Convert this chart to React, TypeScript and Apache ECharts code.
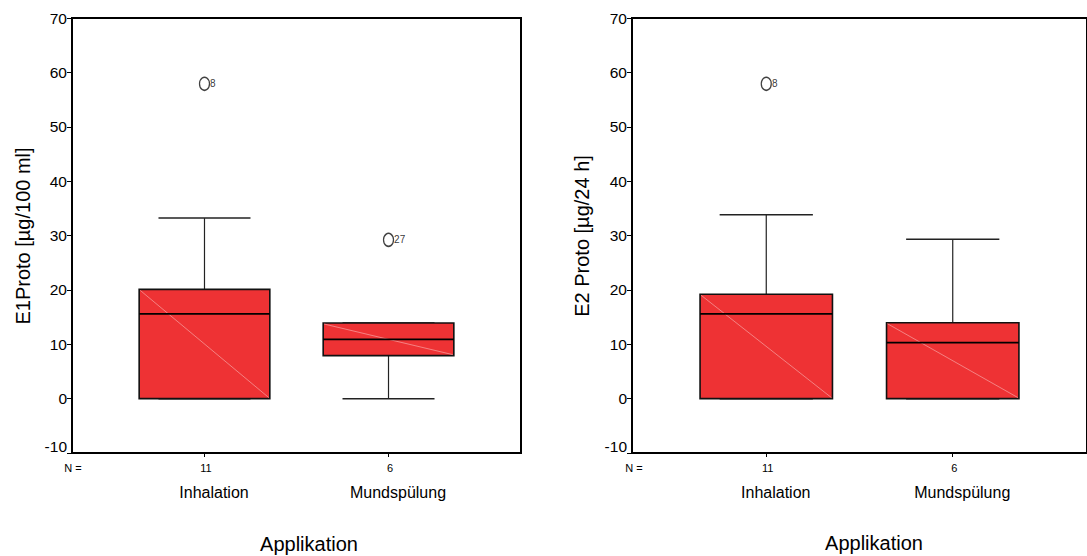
import React, { useEffect, useRef } from 'react';
import * as echarts from 'echarts';

const categories = ['Inhalation', 'Mundspülung'];
const counts = ['11', '6'];
// [low whisker, Q1, median, Q3, high whisker]
const e1Boxes = [
  [0, 0, 15.6, 20.1, 33.2],
  [0, 7.9, 10.9, 13.9, 13.9],
];
// [category index, value, case label]
const e1Outliers = [
  [0, 57.9, '8'],
  [1, 29.2, '27'],
];
const e2Boxes = [
  [0, 0, 15.6, 19.2, 33.8],
  [0, 0, 10.3, 13.95, 29.3],
];
const e2Outliers = [[0, 57.9, '8']];
const yMin = -10;
const yMax = 70;
const yStep = 10;
const yTitles = ['E1Proto [µg/100 ml]', 'E2 Proto [µg/24 h]'];
const xTitle = 'Applikation';
const nLabel = 'N =';

const FONT = '"Liberation Sans", Arial, Helvetica, sans-serif';
const RED = '#ee3234';
const BOX_W = 0.71;
const CAP_W = 0.5;

const renderBox = (params: any, api: any) => {
  const x = api.value(0);
  const lo = api.value(1);
  const q1 = api.value(2);
  const med = api.value(3);
  const q3 = api.value(4);
  const hi = api.value(5);
  const c = (v: number) => api.coord([x, v]);
  const cx = c(lo)[0];
  const yLo = c(lo)[1];
  const yQ1 = c(q1)[1];
  const yMed = c(med)[1];
  const yQ3 = c(q3)[1];
  const yHi = c(hi)[1];
  const hb = api.size([BOX_W, 0])[0] / 2;
  const hc = api.size([CAP_W, 0])[0] / 2;
  const whisk = { stroke: '#222', lineWidth: 1.2 };
  const children: any[] = [
    { type: 'line', shape: { x1: cx, y1: yQ3, x2: cx, y2: yHi }, style: whisk },
    { type: 'line', shape: { x1: cx - hc, y1: yHi, x2: cx + hc, y2: yHi }, style: { stroke: '#222', lineWidth: 1.5 } },
    { type: 'line', shape: { x1: cx, y1: yQ1, x2: cx, y2: yLo }, style: whisk },
    { type: 'line', shape: { x1: cx - hc, y1: yLo, x2: cx + hc, y2: yLo }, style: { stroke: '#222', lineWidth: 1.5 } },
    {
      type: 'rect',
      shape: { x: cx - hb, y: yQ3, width: hb * 2, height: yQ1 - yQ3 },
      style: { fill: RED, stroke: '#111', lineWidth: 1.6 },
    },
    {
      type: 'line',
      shape: { x1: cx - hb + 1, y1: yQ3 + 1, x2: cx + hb - 1, y2: yQ1 - 1 },
      style: { stroke: '#f7a3a3', lineWidth: 0.7 },
    },
    { type: 'line', shape: { x1: cx - hb, y1: yMed, x2: cx + hb, y2: yMed }, style: { stroke: '#000', lineWidth: 1.8 } },
  ];
  return { type: 'group', children };
};

const makeAxes = (i: number) => {
  const xAxis = {
    type: 'value',
    gridIndex: i,
    min: -0.72,
    max: 1.72,
    splitLine: { show: false },
    axisLine: { show: true, onZero: false, lineStyle: { color: '#000', width: 2 } },
    axisTick: { show: true, customValues: [0, 1], length: 4, lineStyle: { color: '#000', width: 1 } },
    axisLabel: {
      show: true,
      customValues: [0, 1],
      margin: 8,
      color: '#000',
      fontFamily: FONT,
      formatter: (v: number) => {
        const k = Math.round(v);
        return `{n|${counts[k]}}\n{c|${categories[k]}}`;
      },
      rich: {
        n: { fontSize: 11, lineHeight: 14, fontFamily: FONT, color: '#000', padding: [0, 0, 0, 3] },
        c: { fontSize: 16, lineHeight: 34, fontFamily: FONT, color: '#000', padding: [0, 0, 0, 19] },
      },
    },
  };
  const yAxis = {
    type: 'value',
    gridIndex: i,
    min: yMin,
    max: yMax,
    interval: yStep,
    splitLine: { show: false },
    axisLine: { show: true, onZero: false, lineStyle: { color: '#000', width: 2 } },
    axisTick: { show: true, length: 5, lineStyle: { color: '#000', width: 1 } },
    axisLabel: {
      margin: 5,
      fontSize: 15.5,
      color: '#000',
      fontFamily: FONT,
      formatter: (v: number) => (v === yMin ? `{low|${v}}` : String(v)),
      rich: {
        low: { fontSize: 15.5, fontFamily: FONT, color: '#000', padding: [0, 0, 14, 0] },
      },
    },
  };
  return { xAxis, yAxis };
};

const text = (x: number, y: number, t: string, size: number, rotation = 0) => ({
  type: 'text',
  x,
  y,
  rotation,
  style: {
    text: t,
    fontSize: size,
    fontFamily: FONT,
    fill: '#000',
    align: 'center',
    verticalAlign: 'middle',
  },
});

export default function App() {
  const ref = useRef<HTMLDivElement>(null);
  useEffect(() => {
    if (!ref.current) return;
    const chart = echarts.init(ref.current, undefined, { renderer: 'svg' });
    const a0 = makeAxes(0);
    const a1 = makeAxes(1);
    const boxSeries = (boxes: number[][], i: number) => ({
      type: 'custom',
      xAxisIndex: i,
      yAxisIndex: i,
      clip: false,
      renderItem: renderBox,
      encode: { x: 0, y: [1, 2, 3, 4, 5] },
      data: boxes.map((b, k) => [k, ...b]),
      z: 2,
    });
    const outlierSeries = (pts: any[], i: number) => ({
      type: 'scatter',
      xAxisIndex: i,
      yAxisIndex: i,
      symbol: 'circle',
      symbolSize: [10, 13],
      itemStyle: { color: 'rgba(255,255,255,0)', borderColor: '#111', borderWidth: 1.4 },
      label: {
        show: true,
        position: 'right',
        distance: 0,
        formatter: (p: any) => p.data[2],
        fontSize: 10,
        fontFamily: FONT,
        color: '#000',
      },
      data: pts,
      z: 3,
    });
    chart.setOption({
      animation: false,
      backgroundColor: '#fff',
      grid: [
        { left: 72, top: 18, width: 449, height: 435, show: true, borderColor: '#000', borderWidth: 2, containLabel: false },
        { left: 632, top: 18, width: 465, height: 435, show: true, borderColor: '#000', borderWidth: 2, containLabel: false },
      ],
      xAxis: [a0.xAxis, a1.xAxis],
      yAxis: [a0.yAxis, a1.yAxis],
      series: [
        boxSeries(e1Boxes, 0),
        outlierSeries(e1Outliers, 0),
        boxSeries(e2Boxes, 1),
        outlierSeries(e2Outliers, 1),
      ],
      graphic: [
        text(22.5, 236, yTitles[0], 20, Math.PI / 2),
        text(582, 236, yTitles[1], 20, Math.PI / 2),
        text(73, 468, nLabel, 11),
        text(634, 468, nLabel, 11),
        text(309, 544, xTitle, 20),
        text(874, 543, xTitle, 20),
      ],
    });
    return () => chart.dispose();
  }, []);
  return (
    <div
      ref={ref}
      style={{ position: 'fixed', left: 0, top: 0, width: 1087, height: 556, background: '#fff' }}
    />
  );
}
